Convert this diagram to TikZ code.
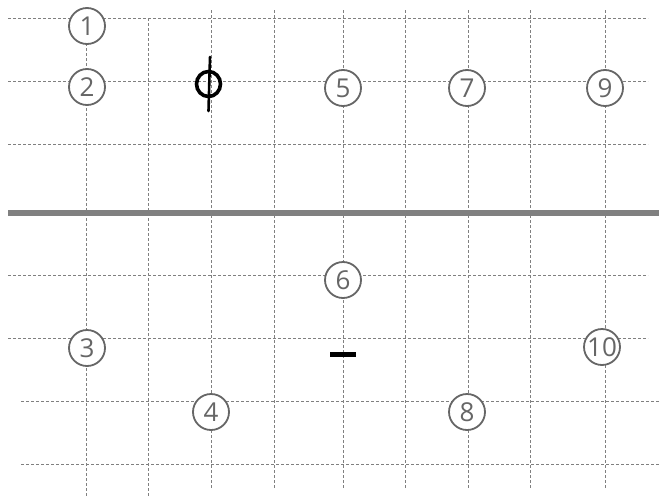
\documentclass[tikz,border=0pt]{standalone}
\usepackage{fontspec}
\setmainfont{Open Sans}
\begin{document}
\begin{tikzpicture}[x=1pt,y=-1pt,
  gridline/.style={draw=black!50,line width=0.8pt,dash pattern=on 3pt off 2pt},
  numcirc/.style={circle,draw=black!60,line width=1.8pt,minimum size=36pt,inner sep=0pt,
    text=black!60,font=\fontsize{26}{26}\selectfont},
  ]
\useasboundingbox (0,0) rectangle (659,498);
% horizontal grid lines
\foreach \y in {18,81,144,275,338} \draw[gridline] (8,\y) -- (648,\y);
\foreach \y in {401,464} \draw[gridline] (21,\y) -- (659,\y);
% vertical grid lines
\foreach \x in {86,148} \draw[gridline] (\x,18) -- (\x,498);
\foreach \x in {211,274,343,405,468,530,605} \draw[gridline] (\x,10) -- (\x,488);
% thick separator
\draw[draw=black!50,line width=5.5pt] (8,213) -- (659,213);
% circled numbers
\node[numcirc,fill=white] (c1) at (87,26) {1};
\node[numcirc,fill=white] (c2) at (87,87) {2};
\node[numcirc,fill=white] (c5) at (343,88) {5};
\node[numcirc,fill=white] (c7) at (467,88) {7};
\node[numcirc,fill=white] (c9) at (605,88) {9};
\node[numcirc,fill=white] (c6) at (343,280) {6};
\node[numcirc,fill=white] (c3) at (87,348) {3};
\node[numcirc,fill=white] (c10) at (602,347) {10};
\node[numcirc,fill=white] (c4) at (211,412) {4};
\node[numcirc,fill=white] (c8) at (467,412) {8};
% phi symbol
\draw[black,line width=3.6pt] (208.5,84) ellipse (12 and 12.5);
\draw[black,line width=2.6pt,line cap=round] (210,57) -- (208.5,111);
% minus sign
\draw[black,line width=5pt] (330,354) -- (356,354);
\end{tikzpicture}
\end{document}
